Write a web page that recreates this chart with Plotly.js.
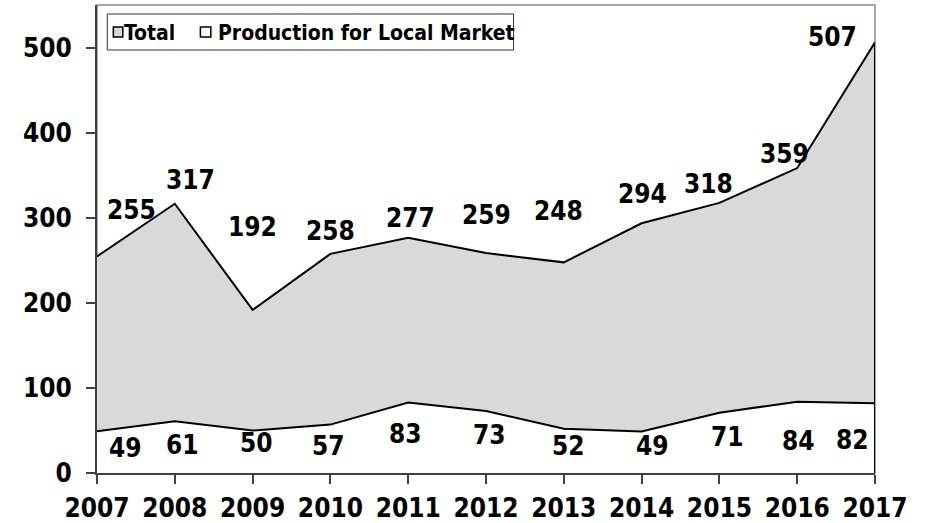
<!DOCTYPE html>
<html>
<head>
<meta charset="utf-8">
<script src="https://cdn.plot.ly/plotly-3.0.1.min.js"></script>
<style>html,body{margin:0;padding:0;background:#fff;}#chart{width:926px;height:523px;}</style>
</head>
<body>
<div id="chart"></div>
<script>
const years = [2007, 2008, 2009, 2010, 2011, 2012, 2013, 2014, 2015, 2016, 2017];
const total = [255, 317, 192, 258, 277, 259, 248, 294, 318, 359, 507];
const localMarket = [49, 61, 50, 57, 83, 73, 52, 49, 71, 84, 82];
const seriesNames = ["Total", "Production for Local Market"];
const yTicks = [0, 100, 200, 300, 400, 500];

// label placement offsets in pixels (style only)
const totalDx = [34, 16, 0, 0, 2, 0, -5, 1, -11, -13, -43];
const totalDy = [46, 24, 83, 23, 20, 38, 51, 29, 19, 14, 5];
const localDx = [28, 8, 4, -2, -3, 3, 5, 11, 8, 1, -23];
const localDy = [-17, -24, -12, -21, -31, -24, -17, -15, -24, -39, -37];

const FONT = "'DejaVu Sans Condensed', 'DejaVu Sans', sans-serif";
const numFont = {family: FONT, size: 26, color: "#000", weight: "bold"};

const traces = [
  {x: years, y: total, type: "scatter", mode: "lines", name: seriesNames[0],
   fill: "tozeroy", fillcolor: "#d9d9d9", line: {color: "#000", width: 2}, showlegend: false, hoverinfo: "skip"},
  {x: years, y: localMarket, type: "scatter", mode: "lines", name: seriesNames[1],
   fill: "tozeroy", fillcolor: "#ffffff", line: {color: "#000", width: 2}, showlegend: false, hoverinfo: "skip"}
];

const annotations = [];
years.forEach((yr, i) => {
  annotations.push({x: yr, y: total[i], text: String(total[i]), showarrow: false,
    xanchor: "center", yanchor: "middle", xshift: totalDx[i], yshift: totalDy[i], font: numFont});
  annotations.push({x: yr, y: localMarket[i], text: String(localMarket[i]), showarrow: false,
    xanchor: "center", yanchor: "middle", xshift: localDx[i], yshift: localDy[i], font: numFont});
});
const legFont = {family: FONT, size: 21, color: "#000", weight: "bold"};
annotations.push({xref: "paper", yref: "paper", x: 0.0330, y: 0.9402, text: seriesNames[0],
  showarrow: false, xanchor: "left", yanchor: "middle", font: legFont, borderpad: 0});
annotations.push({xref: "paper", yref: "paper", x: 0.1545, y: 0.9402, text: seriesNames[1],
  showarrow: false, xanchor: "left", yanchor: "middle", font: legFont, borderpad: 0});

const last = years.length - 1;
const shapes = [
  {type: "rect", xref: "paper", yref: "paper", x0: 0, x1: 1, y0: 0, y1: 1,
   line: {color: "#8c8c8c", width: 1.5}, layer: "below"},
  {type: "line", xref: "x", yref: "y", x0: years[last], x1: years[last], y0: 0, y1: total[last],
   line: {color: "#000", width: 2}},
  {type: "rect", xref: "paper", yref: "paper", x0: 0.0132, x1: 0.5354, y0: 0.9039, y1: 0.9808,
   line: {color: "#333", width: 1}, fillcolor: "#fff"},
  {type: "rect", xref: "paper", yref: "paper", x0: 0.0210, x1: 0.0332, y0: 0.9317, y1: 0.9530,
   line: {color: "#000", width: 1.5}, fillcolor: "#d9d9d9"},
  {type: "rect", xref: "paper", yref: "paper", x0: 0.1329, x1: 0.1463, y0: 0.9317, y1: 0.9530,
   line: {color: "#000", width: 1.5}, fillcolor: "#fff"}
];

const layout = {
  width: 926, height: 523,
  margin: {l: 97, r: 51, t: 5, b: 50},
  paper_bgcolor: "#fff", plot_bgcolor: "#fff",
  showlegend: false,
  xaxis: {type: "linear", range: [years[0], years[last]], tickvals: years, ticktext: years.map(String),
    showgrid: false, zeroline: false, showline: true, linecolor: "#404040", linewidth: 2,
    ticks: "outside", ticklen: 9, tickwidth: 2, tickcolor: "#404040", ticklabelstandoff: 2,
    tickfont: numFont, fixedrange: true},
  yaxis: {range: [0, 551], tickvals: yTicks, ticktext: yTicks.map(String),
    showgrid: false, zeroline: false, showline: true, linecolor: "#404040", linewidth: 2,
    ticks: "outside", ticklen: 9, tickwidth: 2, tickcolor: "#404040", ticklabelstandoff: 9,
    tickfont: numFont, fixedrange: true},
  annotations: annotations,
  shapes: shapes
};

Plotly.newPlot("chart", traces, layout, {displayModeBar: false, staticPlot: true});
</script>
</body>
</html>
